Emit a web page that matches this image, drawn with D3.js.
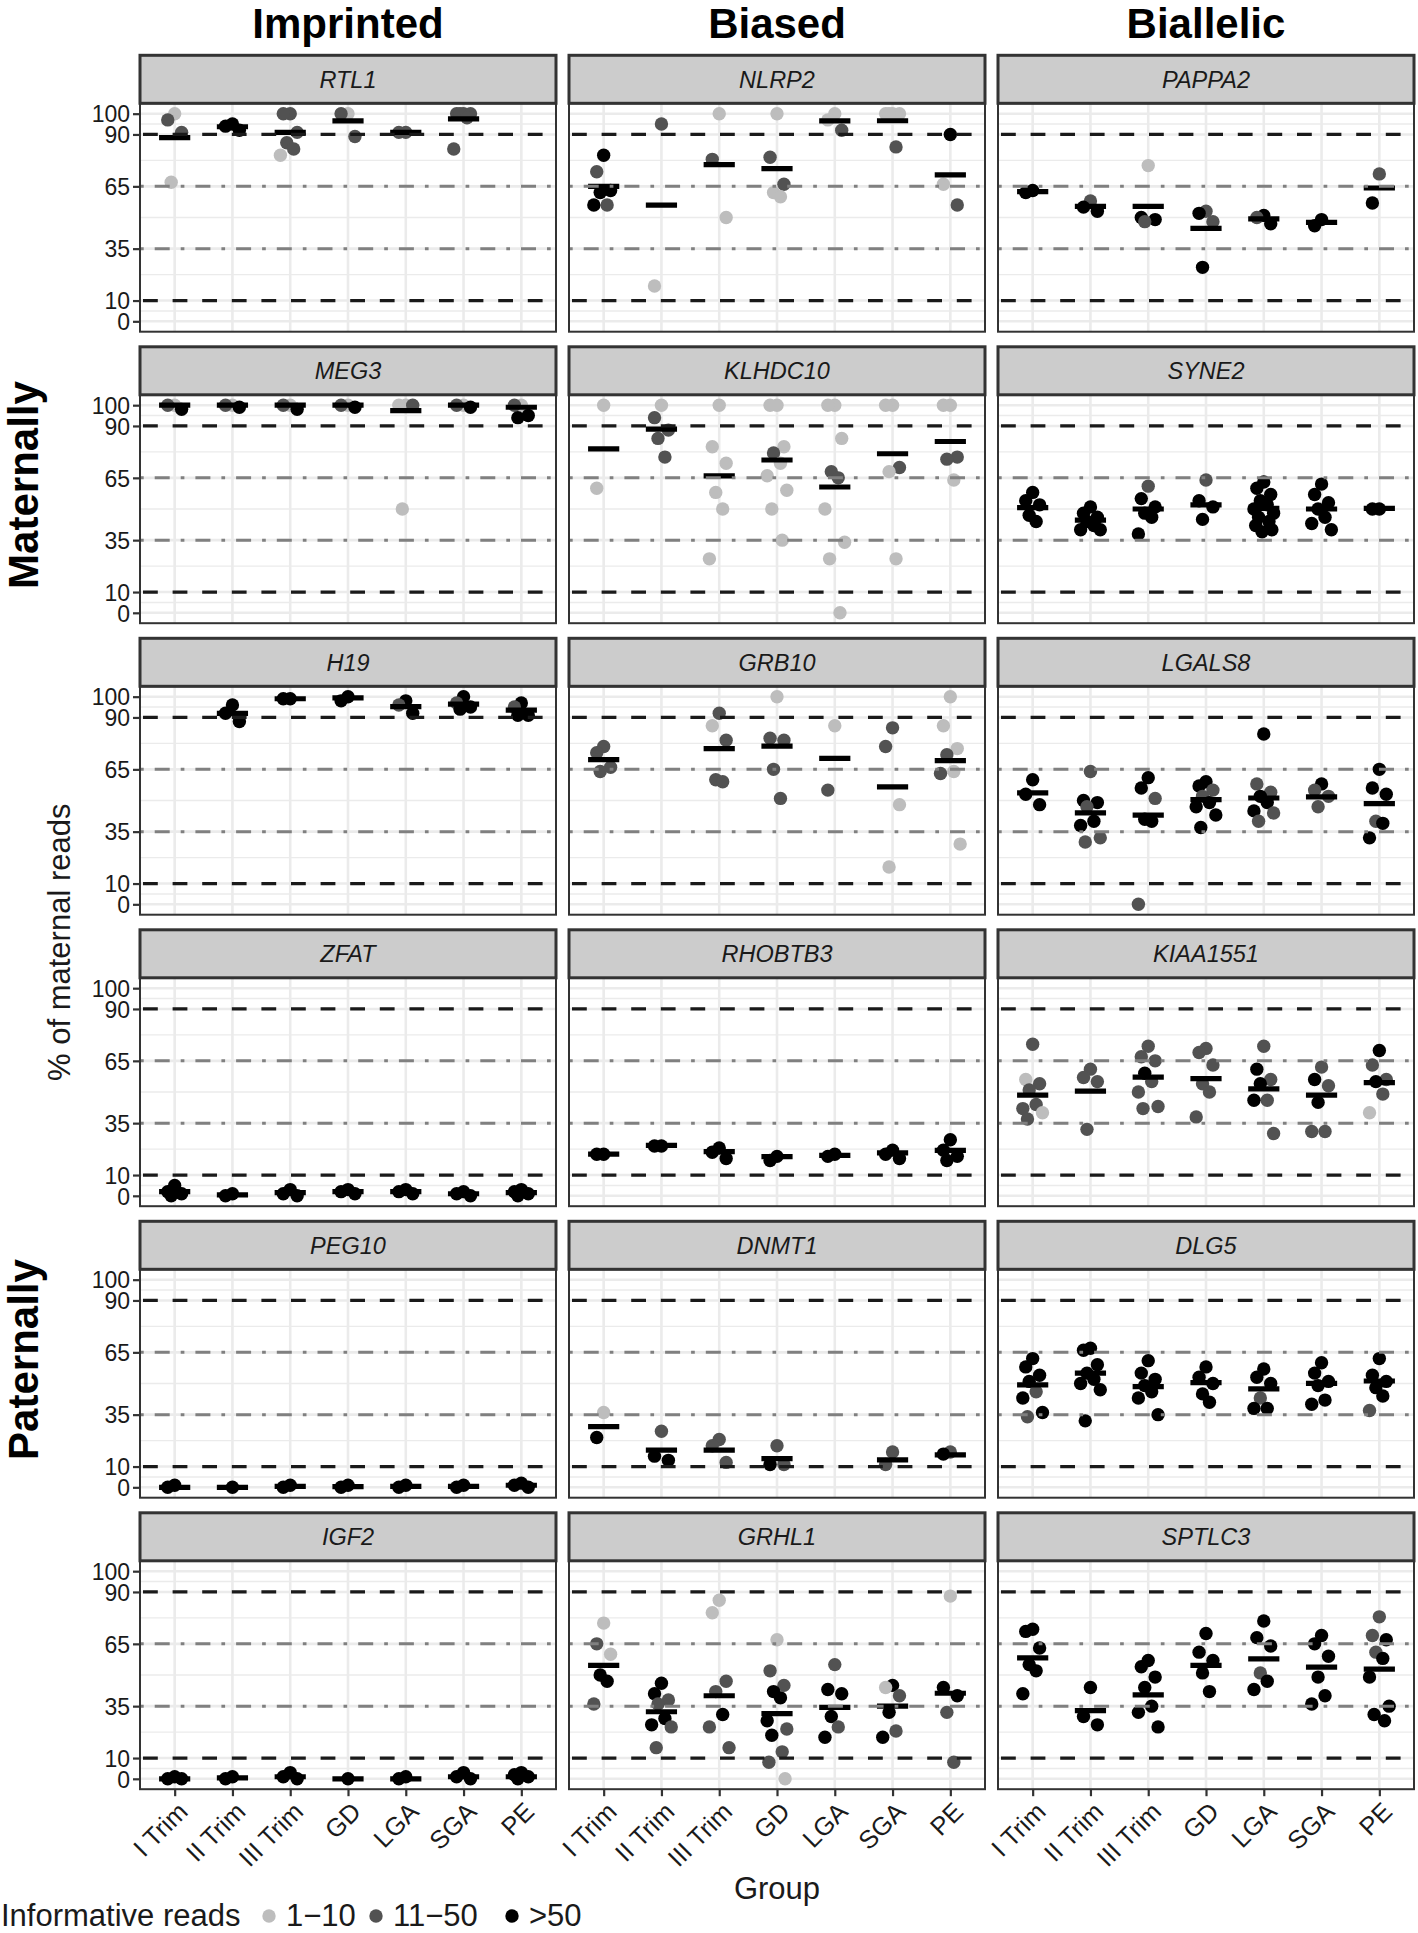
<!DOCTYPE html>
<html><head><meta charset="utf-8">
<script src="https://cdn.jsdelivr.net/npm/d3@7"></script>
<style>
body{margin:0;background:#fff}
text{font-family:"Liberation Sans",Arial,Helvetica,sans-serif}
</style>
</head><body>
<svg id="chart" width="1418" height="1933"></svg>
<script>
// ---------------- DATA ----------------
const groups = ["I Trim","II Trim","III Trim","GD","LGA","SGA","PE"];
const colTitles = ["Imprinted","Biased","Biallelic"];
const rowGroupLabels = ["Maternally","Paternally"];
const geneGrid = [
  ["RTL1","NLRP2","PAPPA2"],
  ["MEG3","KLHDC10","SYNE2"],
  ["H19","GRB10","LGALS8"],
  ["ZFAT","RHOBTB3","KIAA1551"],
  ["PEG10","DNMT1","DLG5"],
  ["IGF2","GRHL1","SPTLC3"]
];
const yTicks = [0,10,35,65,90,100];
const yMinor = [5,22.5,50,77.5,95];
const refDashed = [90,10];
const refDotdash = [65,35];
const readClasses = ["1\u221210","11\u221250",">50"];
const yTitle = "% of maternal reads";
const xTitle = "Group";
const legendTitle = "Informative reads";

// points per group: [value %, read class 0:1-10, 1:11-50, 2:>50]
const RTL1 = [[[100,0],[97,1],[91,1],[67,0]],[[95,2],[94,2],[92,2]],[[100,1],[100,1],[91,1],[86,1],[83,1],[80,0]],[[100,0],[100,1],[89,1]],[[91,1],[91,1]],[[100,1],[100,1],[100,1],[100,1],[98,1],[83,1]],[]];
const RTL1_mean = [88.5,93.7,91,96.5,91,97.5,null];
const NLRP2 = [[[80,2],[72,1],[63,2],[62,2],[56,1],[56,2]],[[95,1],[17,0]],[[100,0],[78,1],[50,0]],[[100,0],[79,1],[66,1],[62,0],[60,0]],[[100,0],[97,0],[92,1]],[[100,0],[100,0],[100,0],[100,0],[84,1]],[[90,2],[66,0],[56,1]]];
const NLRP2_mean = [65,56,75.5,73.5,96.5,96.6,70.5];
const PAPPA2 = [[[63,2],[62,2]],[[58,1],[55,2],[53,2]],[[75,0],[50,2],[49,2],[48,1]],[[53,1],[52,2],[48,1],[26,2]],[[51,2],[50,1],[47,2]],[[49,2],[46,2]],[[71,1],[57,2]]];
const PAPPA2_mean = [62.5,55.4,55.4,44.8,49.3,47.7,64.2];
const MEG3 = [[[100,0],[100,1],[98,2]],[[100,0],[100,1],[99,2]],[[100,0],[100,1],[98,2]],[[100,0],[100,1],[99,2]],[[100,0],[100,0],[100,1],[50,0]],[[100,0],[100,1],[99,2]],[[100,0],[100,1],[95,2],[94,2]]];
const MEG3_mean = [100,100,100,100,97.4,100,99];
const KLHDC10 = [[[100,0],[60,0]],[[100,0],[94,1],[88,1],[84,1],[75,1]],[[100,0],[80,0],[72,0],[58,0],[50,0],[26,0]],[[100,0],[100,0],[80,0],[77,1],[72,0],[66,0],[59,0],[50,0],[35,0]],[[100,0],[100,0],[84,0],[68,1],[65,1],[50,0],[34,0],[26,0],[0,0]],[[100,0],[100,0],[70,1],[68,0],[26,0]],[[100,0],[100,0],[75,1],[74,1],[64,0]]];
const KLHDC10_mean = [79,88.5,66,73.6,60.6,76.6,82.5];
const SYNE2 = [[[58,2],[54,2],[52,2],[47,2],[44,2]],[[51,2],[48,2],[46,2],[44,2],[42,2],[40,2],[40,2]],[[61,1],[55,2],[51,2],[48,2],[46,2],[38,2]],[[64,1],[54,2],[51,2],[45,2]],[[63,2],[60,2],[57,2],[54,2],[52,2],[50,2],[48,2],[46,2],[44,2],[42,2],[40,2],[39,2]],[[62,2],[57,2],[53,2],[50,2],[46,2],[43,2],[40,2]],[[50,2],[50,2]]];
const SYNE2_mean = [50.7,44.6,50,52,50.3,50,50.3];
const H19 = [[],[[96,2],[92,2],[88,2]],[[99,2],[99,2]],[[100,2],[98,2]],[[98,2],[96,1],[92,2]],[[100,2],[97,1],[95,2],[94,2]],[[97,2],[95,1],[91,2],[91,2]]];
const H19_mean = [null,92,99,99.4,95.2,96.4,93.5];
const GRB10 = [[[76,1],[73,1],[66,1],[64,1]],[],[[92,1],[86,0],[79,1],[60,1],[59,1]],[[100,0],[80,1],[79,1],[65,1],[51,1]],[[86,0],[55,1]],[[85,1],[76,1],[48,0],[18,0]],[[100,0],[86,0],[75,0],[72,1],[64,0],[63,1],[29,0]]];
const GRB10_mean = [69.7,null,75,76.2,70.3,56.6,69.2];
const LGALS8 = [[[60,2],[53,2],[48,2]],[[64,1],[50,2],[49,2],[47,1],[40,2],[38,2],[32,1],[30,1]],[[61,2],[56,2],[51,1],[41,2],[40,2],[0,1]],[[59,2],[57,2],[55,1],[52,1],[49,2],[47,2],[43,2],[37,2]],[[82,2],[58,1],[54,1],[52,2],[49,2],[45,2],[44,1],[40,1]],[[58,2],[55,1],[52,1],[47,1]],[[65,2],[56,2],[53,2],[40,1],[39,2],[32,2]]];
const LGALS8_mean = [53.7,44,43,50.4,51.2,51.7,48.5];
const ZFAT = [[[5,2],[2,2],[1,2],[0,2]],[[1,2],[0,2]],[[3,2],[1,2],[0,2]],[[3,2],[2,2],[1,2]],[[3,2],[2,2],[1,2]],[[2,2],[1,2],[0,2]],[[3,2],[2,2],[1,2],[0,2]]];
const ZFAT_mean = [2,0.5,1.5,2,2,1,1.5];
const RHOBTB3 = [[[20,2],[20,2]],[[24,2],[24,2]],[[23,2],[21,2],[18,2]],[[19,2],[17,2]],[[20,2],[19,2]],[[22,2],[20,2],[18,2]],[[27,2],[22,2],[19,2],[17,2]]];
const RHOBTB3_mean = [20.1,24.3,21.3,18.9,19.5,20.7,21.9];
const KIAA1551 = [[[73,1],[56,0],[54,1],[51,1],[44,1],[42,1],[40,0],[37,1]],[[61,1],[57,1],[55,1],[32,1]],[[72,1],[67,1],[65,1],[59,2],[55,1],[50,1],[43,1],[42,1]],[[71,1],[69,1],[63,1],[54,1],[50,1],[38,1]],[[72,1],[61,2],[56,1],[54,2],[46,1],[46,2],[30,1]],[[62,1],[56,2],[53,1],[45,2],[31,1],[31,1]],[[70,2],[63,1],[56,1],[55,2],[49,1],[40,0]]];
const KIAA1551_mean = [48.5,50.4,57.2,56.4,51.5,48.5,54.5];
const PEG10 = [[[1,2],[0,2]],[[0,2]],[[1,2],[0,2]],[[1,2],[0,2]],[[1,2],[0,2]],[[1,2],[0,2]],[[2,2],[1,2],[0,2]]];
const PEG10_mean = [0,0,0.5,0.3,0.5,0.5,1];
const DNMT1 = [[[36,0],[24,2]],[[27,1],[15,2],[13,2]],[[23,1],[20,1],[12,1]],[[20,1],[11,2],[11,1]],[],[[17,1],[11,1]],[[17,1],[16,2]]];
const DNMT1_mean = [29.2,17.9,17.9,13.8,null,13.2,15.6];
const DLG5 = [[[62,2],[58,2],[54,2],[51,2],[46,1],[43,2],[36,2],[34,1]],[[67,2],[66,2],[59,2],[55,2],[52,2],[50,2],[47,2],[32,2]],[[61,2],[55,2],[52,2],[49,2],[46,2],[43,2],[35,2]],[[58,2],[53,2],[50,2],[45,2],[41,2]],[[57,2],[53,2],[50,2],[43,1],[38,2],[38,2]],[[60,2],[55,2],[51,2],[49,2],[42,2],[40,2]],[[62,2],[54,2],[51,2],[48,2],[44,2],[37,1]]];
const DLG5_mean = [49.3,55,48.5,50.4,47.4,50.1,51.2];
const IGF2 = [[[1,2],[0,2],[0,2]],[[1,2],[0,2]],[[3,2],[1,2],[0,2]],[[0,2]],[[1,2],[0,2]],[[3,2],[1,2],[0,2]],[[3,2],[2,2],[1,2],[0,2]]];
const IGF2_mean = [0,0.5,1,0,0,1,1];
const GRHL1 = [[[75,0],[65,1],[60,0],[50,2],[47,2],[36,1]],[[46,2],[41,2],[38,1],[36,1],[29,2],[26,2],[25,1],[15,1]],[[86,0],[80,0],[47,1],[42,1],[31,2],[25,1],[15,1]],[[67,0],[52,1],[45,1],[42,2],[39,2],[28,2],[24,1],[21,2],[13,1],[8,1],[0,0]],[[55,1],[43,2],[41,2],[30,2],[25,1],[20,2]],[[45,2],[44,0],[40,1],[32,2],[23,1],[20,2]],[[88,0],[44,2],[40,2],[32,1],[8,1]]];
const GRHL1_mean = [54.6,32.3,40,31.4,34.4,35,41.2];
const SPTLC3 = [[[72,2],[71,2],[63,2],[55,2],[52,2],[41,2]],[[44,2],[30,2],[26,2]],[[57,2],[54,2],[49,2],[44,2],[35,2],[32,2],[25,2]],[[70,2],[61,2],[57,2],[51,2],[42,2]],[[76,2],[68,2],[64,2],[51,1],[47,2],[43,2]],[[69,2],[65,2],[59,2],[49,2],[40,2],[36,2]],[[78,1],[69,1],[67,2],[61,1],[58,2],[49,2],[35,2],[31,2],[28,2]]];
const SPTLC3_mean = [58.2,32.8,40.4,54.6,57.8,53.8,52.8];

const geneData = {
  RTL1:[RTL1,RTL1_mean], NLRP2:[NLRP2,NLRP2_mean], PAPPA2:[PAPPA2,PAPPA2_mean],
  MEG3:[MEG3,MEG3_mean], KLHDC10:[KLHDC10,KLHDC10_mean], SYNE2:[SYNE2,SYNE2_mean],
  H19:[H19,H19_mean], GRB10:[GRB10,GRB10_mean], LGALS8:[LGALS8,LGALS8_mean],
  ZFAT:[ZFAT,ZFAT_mean], RHOBTB3:[RHOBTB3,RHOBTB3_mean], KIAA1551:[KIAA1551,KIAA1551_mean],
  PEG10:[PEG10,PEG10_mean], DNMT1:[DNMT1,DNMT1_mean], DLG5:[DLG5,DLG5_mean],
  IGF2:[IGF2,IGF2_mean], GRHL1:[GRHL1,GRHL1_mean], SPTLC3:[SPTLC3,SPTLC3_mean]
};

// ---------------- STYLE / LAYOUT ----------------
const pointColors = ["#bdbdbd","#525252","#000000"];
const jitterPattern = [0,-0.12,0.12,-0.06,0.06,-0.17,0.17,-0.09,0.09,-0.14,0.14,-0.03,0.03];
const L = {panelLeft:140, panelW:416, panelGap:13, stripTop:55.3, rowStep:291.5, stripH:48, plotH:228.4};
const FONT_TICK = 23, FONT_XTICK = 25.5, FONT_STRIP = 23.5, FONT_TITLE = 42, FONT_AXT = 31;
const PT_R = 6.7;

const svg = d3.select("#chart");
svg.append("rect").attr("width",1418).attr("height",1933).attr("fill","#fff");

// column titles
colTitles.forEach((t,c)=>{
  const cx = L.panelLeft + c*(L.panelW+L.panelGap) + L.panelW/2;
  svg.append("text").attr("x",cx).attr("y",38).attr("text-anchor","middle")
    .attr("font-size",FONT_TITLE).attr("font-weight","bold").attr("fill","#000").text(t);
});

const nRows = geneGrid.length;
geneGrid.forEach((row,r)=>{
  row.forEach((gene,c)=>{
    const x0 = L.panelLeft + c*(L.panelW+L.panelGap);
    const sTop = L.stripTop + r*L.rowStep;
    const pTop = sTop + L.stripH, pBot = pTop + L.plotH;
    const x = d3.scalePoint().domain(groups).range([x0, x0+L.panelW]).padding(0.6);
    const y = d3.scaleLinear().domain([-5,105]).range([pBot,pTop]);
    const g = svg.append("g");
    const clipId = "clip"+r+"_"+c;
    svg.append("clipPath").attr("id",clipId).append("rect")
      .attr("x",x0).attr("y",pTop).attr("width",L.panelW).attr("height",L.plotH);
    const pg = g.append("g").attr("clip-path",`url(#${clipId})`);
    // grid
    pg.selectAll(".gmin").data(yMinor).join("line")
      .attr("x1",x0).attr("x2",x0+L.panelW).attr("y1",d=>y(d)).attr("y2",d=>y(d))
      .attr("stroke","#ebebeb").attr("stroke-width",1.4);
    pg.selectAll(".gmaj").data(yTicks).join("line")
      .attr("x1",x0).attr("x2",x0+L.panelW).attr("y1",d=>y(d)).attr("y2",d=>y(d))
      .attr("stroke","#ebebeb").attr("stroke-width",2.6);
    pg.selectAll(".gx").data(groups).join("line")
      .attr("x1",d=>x(d)).attr("x2",d=>x(d)).attr("y1",pTop).attr("y2",pBot)
      .attr("stroke","#ebebeb").attr("stroke-width",2.6);
    // points
    const [pts, means] = geneData[gene];
    const step = x.step();
    const flat = [];
    pts.forEach((arr,gi)=>arr.forEach((p,i)=>flat.push({g:groups[gi], v:p[0], cls:p[1], j:jitterPattern[i%jitterPattern.length]})));
    pg.selectAll(".pt").data(flat).join("circle")
      .attr("cx",d=>x(d.g)+d.j*step).attr("cy",d=>y(d.v)).attr("r",PT_R)
      .attr("fill",d=>pointColors[d.cls]);
    // mean bars
    const mb = means.map((m,gi)=>({g:groups[gi], m})).filter(d=>d.m!==null);
    pg.selectAll(".mb").data(mb).join("line")
      .attr("x1",d=>x(d.g)-0.27*step).attr("x2",d=>x(d.g)+0.27*step)
      .attr("y1",d=>y(d.m)).attr("y2",d=>y(d.m))
      .attr("stroke","#000").attr("stroke-width",5.2);
    // reference lines
    pg.selectAll(".rd").data(refDashed).join("line")
      .attr("x1",x0).attr("x2",x0+L.panelW).attr("y1",d=>y(d)).attr("y2",d=>y(d))
      .attr("stroke","#1a1a1a").attr("stroke-width",3.3).attr("stroke-dasharray","14.8,14.8")
      .attr("stroke-dashoffset",-3);
    pg.selectAll(".rdd").data(refDotdash).join("line")
      .attr("x1",x0).attr("x2",x0+L.panelW).attr("y1",d=>y(d)).attr("y2",d=>y(d))
      .attr("stroke","#808080").attr("stroke-width",3).attr("stroke-dasharray","3.7,11,15,11")
      .attr("stroke-dashoffset",0);
    // panel border
    g.append("rect").attr("x",x0).attr("y",pTop).attr("width",L.panelW).attr("height",L.plotH)
      .attr("fill","none").attr("stroke","#333").attr("stroke-width",2);
    // strip
    g.append("rect").attr("x",x0).attr("y",sTop).attr("width",L.panelW).attr("height",L.stripH)
      .attr("fill","#cccccc").attr("stroke","#333").attr("stroke-width",3);
    g.append("text").attr("x",x0+L.panelW/2).attr("y",sTop+L.stripH/2+8.3)
      .attr("text-anchor","middle").attr("font-size",FONT_STRIP).attr("font-style","italic")
      .attr("fill","#1a1a1a").text(gene);
    // y axis
    if(c===0){
      const ax = g.append("g").attr("transform",`translate(${x0},0)`)
        .call(d3.axisLeft(y).tickValues(yTicks).tickSize(7).tickPadding(3).tickFormat(d3.format("d")));
      ax.select(".domain").remove();
      ax.selectAll(".tick line").attr("stroke","#333").attr("stroke-width",2.2);
      ax.selectAll(".tick text").attr("font-size",FONT_TICK).attr("fill","#1a1a1a")
        .attr("font-family","'Liberation Sans',Arial,sans-serif").attr("dy","0.36em");
    }
    // x axis
    if(r===nRows-1){
      const ax = g.append("g").attr("transform",`translate(0,${pBot})`)
        .call(d3.axisBottom(x).tickSize(7).tickPadding(0));
      ax.select(".domain").remove();
      ax.selectAll(".tick line").attr("stroke","#333").attr("stroke-width",2.2);
      ax.selectAll(".tick text").attr("font-size",FONT_XTICK).attr("fill","#1a1a1a")
        .attr("font-family","'Liberation Sans',Arial,sans-serif")
        .attr("text-anchor","end").attr("y",null)
        .attr("transform","translate(1,11) rotate(-45)").attr("dy","0.72em");
    }
  });
});

// row group labels
const rowH = L.stripH+L.plotH;
[[0,2],[3,5]].forEach((rr,i)=>{
  const top = L.stripTop + rr[0]*L.rowStep;
  const bot = L.stripTop + rr[1]*L.rowStep + rowH;
  svg.append("text").attr("transform",`translate(38,${(top+bot)/2}) rotate(-90)`)
    .attr("text-anchor","middle").attr("font-size",FONT_TITLE).attr("font-weight","bold")
    .attr("fill","#000").text(rowGroupLabels[i]);
});
// y axis title
{
  const top = L.stripTop, bot = L.stripTop + 5*L.rowStep + rowH;
  svg.append("text").attr("transform",`translate(70,${(top+bot)/2+20}) rotate(-90)`)
    .attr("text-anchor","middle").attr("font-size",FONT_AXT).attr("fill","#1a1a1a").text(yTitle);
}
// x title
svg.append("text").attr("x",L.panelLeft + (3*L.panelW+2*L.panelGap)/2).attr("y",1899)
  .attr("text-anchor","middle").attr("font-size",FONT_AXT).attr("fill","#1a1a1a").text(xTitle);

// legend
const lg = svg.append("g");
lg.append("text").attr("x",1).attr("y",1926).attr("font-size",FONT_AXT).attr("fill","#1a1a1a").text(legendTitle);
const legX = [269,376,512];
readClasses.forEach((lab,i)=>{
  lg.append("circle").attr("cx",legX[i]).attr("cy",1916).attr("r",PT_R).attr("fill",pointColors[i]);
  lg.append("text").attr("x",legX[i]+17).attr("y",1926).attr("font-size",FONT_AXT).attr("fill","#1a1a1a").text(lab);
});
</script>
</body></html>
